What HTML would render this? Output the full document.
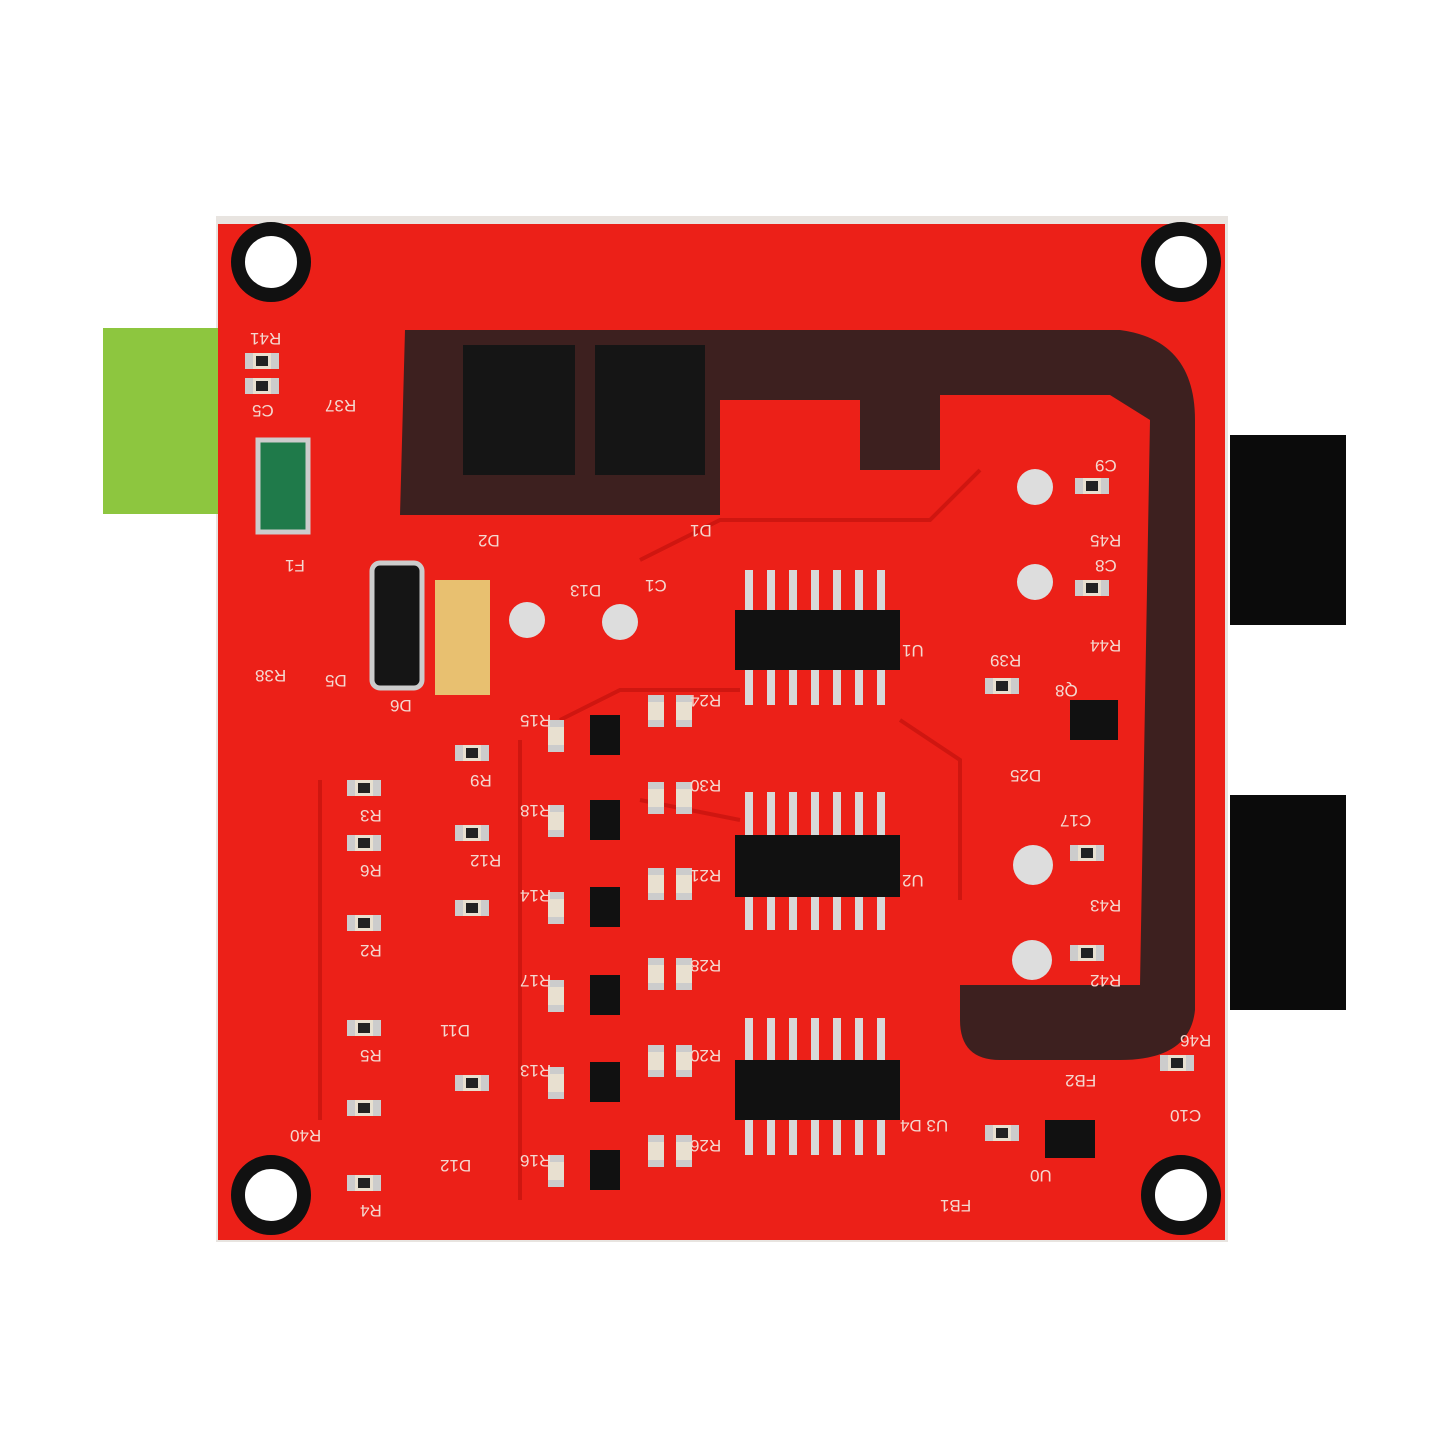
<!DOCTYPE html>
<html><head><style>
body{margin:0;width:1445px;height:1445px;background:#fff;position:relative;overflow:hidden;font-family:"Liberation Sans",sans-serif}
.a{position:absolute}
.lbl{position:absolute;color:#f4d8d0;font-size:17px;transform:rotate(180deg);white-space:nowrap}
.r{position:absolute;width:34px;height:16px;background:#e8e0d0;border-left:8px solid #ccc;border-right:8px solid #ccc;box-sizing:border-box}
.r b{display:block;margin:3px auto;width:12px;height:10px;background:#222}
.v{position:absolute;width:16px;height:32px;background:#e8e0d0;border-top:7px solid #ccc;border-bottom:7px solid #ccc;box-sizing:border-box}
</style></head><body>
<div class="a" style="left:216px;top:216px;width:1012px;height:1026px;background:#e8e4e0"></div>
<div class="a" style="left:218px;top:224px;width:1007px;height:1016px;background:#ec2018"></div>
<div class="a" style="left:103px;top:328px;width:115px;height:186px;background:#8dc63f"></div>
<div class="a" style="left:1230px;top:435px;width:116px;height:190px;background:#0b0b0b"></div>
<div class="a" style="left:1230px;top:795px;width:116px;height:215px;background:#0b0b0b"></div>
<svg class="a" style="left:0;top:0" width="1445" height="1445">
<path d="M405 330 L1120 330 Q1195 340 1195 420 L1195 1010 Q1190 1060 1120 1060 L1000 1060 Q960 1060 960 1020 L960 985 L1045 985 L1140 985 L1150 420 L1110 395 L940 395 L940 470 L860 470 L860 400 L720 400 L720 515 L400 515 Z" fill="#2a2020" opacity="0.9"/>
<g fill="#fff" stroke="#111" stroke-width="14">
<circle cx="271" cy="262" r="33"/><circle cx="1181" cy="262" r="33"/><circle cx="271" cy="1195" r="33"/><circle cx="1181" cy="1195" r="33"/></g>
<g fill="none" stroke="#c8140f" stroke-width="4" opacity="0.8">
<path d="M640 560 L720 520 L930 520 L980 470"/><path d="M560 720 L620 690 L740 690"/><path d="M900 720 L960 760 L960 900"/><path d="M520 740 L520 1200"/><path d="M640 800 L740 820"/><path d="M320 780 L320 1120"/>
</g>
<rect x="463" y="345" width="112" height="130" fill="#151515"/>
<rect x="595" y="345" width="110" height="130" fill="#151515"/>
<rect x="735" y="610" width="165" height="60" fill="#111"/>
<rect x="735" y="835" width="165" height="62" fill="#111"/>
<rect x="735" y="1060" width="165" height="60" fill="#111"/>
<g fill="#d8d8d8">
<rect x="745" y="570" width="8" height="40"/><rect x="767" y="570" width="8" height="40"/><rect x="789" y="570" width="8" height="40"/><rect x="811" y="570" width="8" height="40"/><rect x="833" y="570" width="8" height="40"/><rect x="855" y="570" width="8" height="40"/><rect x="877" y="570" width="8" height="40"/>
<rect x="745" y="670" width="8" height="35"/><rect x="767" y="670" width="8" height="35"/><rect x="789" y="670" width="8" height="35"/><rect x="811" y="670" width="8" height="35"/><rect x="833" y="670" width="8" height="35"/><rect x="855" y="670" width="8" height="35"/><rect x="877" y="670" width="8" height="35"/>
<rect x="745" y="792" width="8" height="43"/><rect x="767" y="792" width="8" height="43"/><rect x="789" y="792" width="8" height="43"/><rect x="811" y="792" width="8" height="43"/><rect x="833" y="792" width="8" height="43"/><rect x="855" y="792" width="8" height="43"/><rect x="877" y="792" width="8" height="43"/>
<rect x="745" y="897" width="8" height="33"/><rect x="767" y="897" width="8" height="33"/><rect x="789" y="897" width="8" height="33"/><rect x="811" y="897" width="8" height="33"/><rect x="833" y="897" width="8" height="33"/><rect x="855" y="897" width="8" height="33"/><rect x="877" y="897" width="8" height="33"/>
<rect x="745" y="1018" width="8" height="42"/><rect x="767" y="1018" width="8" height="42"/><rect x="789" y="1018" width="8" height="42"/><rect x="811" y="1018" width="8" height="42"/><rect x="833" y="1018" width="8" height="42"/><rect x="855" y="1018" width="8" height="42"/><rect x="877" y="1018" width="8" height="42"/>
<rect x="745" y="1120" width="8" height="35"/><rect x="767" y="1120" width="8" height="35"/><rect x="789" y="1120" width="8" height="35"/><rect x="811" y="1120" width="8" height="35"/><rect x="833" y="1120" width="8" height="35"/><rect x="855" y="1120" width="8" height="35"/><rect x="877" y="1120" width="8" height="35"/>
</g>
<rect x="258" y="440" width="50" height="92" fill="#1f7a4a" stroke="#ccc" stroke-width="5"/>
<rect x="372" y="563" width="50" height="125" rx="8" fill="#151515" stroke="#ccc" stroke-width="5"/>
<rect x="435" y="580" width="55" height="115" fill="#e8c070"/>
<g fill="#ddd"><circle cx="527" cy="620" r="18"/><circle cx="620" cy="622" r="18"/><circle cx="1035" cy="487" r="18"/><circle cx="1035" cy="582" r="18"/><circle cx="1033" cy="865" r="20"/><circle cx="1032" cy="960" r="20"/></g>
<g fill="#111"><rect x="590" y="715" width="30" height="40"/><rect x="590" y="800" width="30" height="40"/><rect x="590" y="887" width="30" height="40"/><rect x="590" y="975" width="30" height="40"/><rect x="590" y="1062" width="30" height="40"/><rect x="590" y="1150" width="30" height="40"/><rect x="1070" y="700" width="48" height="40"/><rect x="1045" y="1120" width="50" height="38"/></g>
</svg>
<div class="r a" style="left:245px;top:353px"><b></b></div><div class="r a" style="left:245px;top:378px"><b></b></div>
<div class="r a" style="left:347px;top:780px"><b></b></div><div class="r a" style="left:347px;top:835px"><b></b></div><div class="r a" style="left:347px;top:915px"><b></b></div><div class="r a" style="left:347px;top:1020px"><b></b></div><div class="r a" style="left:347px;top:1100px"><b></b></div><div class="r a" style="left:347px;top:1175px"><b></b></div>
<div class="r a" style="left:455px;top:745px"><b></b></div><div class="r a" style="left:455px;top:825px"><b></b></div><div class="r a" style="left:455px;top:900px"><b></b></div><div class="r a" style="left:455px;top:1075px"><b></b></div>
<div class="r a" style="left:985px;top:678px"><b></b></div><div class="r a" style="left:1075px;top:478px"><b></b></div><div class="r a" style="left:1075px;top:580px"><b></b></div><div class="r a" style="left:1070px;top:845px"><b></b></div><div class="r a" style="left:1070px;top:945px"><b></b></div><div class="r a" style="left:1160px;top:1055px"><b></b></div><div class="r a" style="left:985px;top:1125px"><b></b></div>
<div class="v" style="left:548px;top:720px"></div><div class="v" style="left:548px;top:805px"></div><div class="v" style="left:548px;top:892px"></div><div class="v" style="left:548px;top:980px"></div><div class="v" style="left:548px;top:1067px"></div><div class="v" style="left:548px;top:1155px"></div>
<div class="v" style="left:648px;top:695px"></div><div class="v" style="left:676px;top:695px"></div><div class="v" style="left:648px;top:782px"></div><div class="v" style="left:676px;top:782px"></div><div class="v" style="left:648px;top:868px"></div><div class="v" style="left:676px;top:868px"></div><div class="v" style="left:648px;top:958px"></div><div class="v" style="left:676px;top:958px"></div><div class="v" style="left:648px;top:1045px"></div><div class="v" style="left:676px;top:1045px"></div><div class="v" style="left:648px;top:1135px"></div><div class="v" style="left:676px;top:1135px"></div>
<div class="lbl" style="left:250px;top:328px">R41</div><div class="lbl" style="left:252px;top:400px">C5</div><div class="lbl" style="left:325px;top:395px">R37</div>
<div class="lbl" style="left:285px;top:555px">F1</div><div class="lbl" style="left:255px;top:665px">R38</div><div class="lbl" style="left:325px;top:670px">D5</div><div class="lbl" style="left:390px;top:695px">D6</div>
<div class="lbl" style="left:478px;top:530px">D2</div><div class="lbl" style="left:690px;top:520px">D1</div><div class="lbl" style="left:570px;top:580px">D13</div><div class="lbl" style="left:645px;top:575px">C1</div>
<div class="lbl" style="left:902px;top:640px">U1</div><div class="lbl" style="left:902px;top:870px">U2</div><div class="lbl" style="left:900px;top:1115px">U3 D4</div>
<div class="lbl" style="left:1095px;top:455px">C9</div><div class="lbl" style="left:1090px;top:530px">R45</div><div class="lbl" style="left:1095px;top:555px">C8</div><div class="lbl" style="left:1090px;top:635px">R44</div>
<div class="lbl" style="left:990px;top:650px">R39</div><div class="lbl" style="left:1055px;top:680px">Q8</div><div class="lbl" style="left:1010px;top:765px">D25</div><div class="lbl" style="left:1060px;top:810px">C17</div>
<div class="lbl" style="left:1090px;top:895px">R43</div><div class="lbl" style="left:1090px;top:970px">R42</div><div class="lbl" style="left:1180px;top:1030px">R46</div><div class="lbl" style="left:1170px;top:1105px">C10</div>
<div class="lbl" style="left:520px;top:710px">R15</div><div class="lbl" style="left:520px;top:800px">R18</div><div class="lbl" style="left:520px;top:885px">R14</div><div class="lbl" style="left:520px;top:970px">R17</div><div class="lbl" style="left:520px;top:1060px">R13</div><div class="lbl" style="left:520px;top:1150px">R16</div>
<div class="lbl" style="left:690px;top:690px">R24</div><div class="lbl" style="left:690px;top:775px">R30</div><div class="lbl" style="left:690px;top:865px">R21</div><div class="lbl" style="left:690px;top:955px">R28</div><div class="lbl" style="left:690px;top:1045px">R20</div><div class="lbl" style="left:690px;top:1135px">R26</div>
<div class="lbl" style="left:360px;top:805px">R3</div><div class="lbl" style="left:360px;top:860px">R6</div><div class="lbl" style="left:360px;top:940px">R2</div><div class="lbl" style="left:360px;top:1045px">R5</div><div class="lbl" style="left:290px;top:1125px">R40</div><div class="lbl" style="left:360px;top:1200px">R4</div>
<div class="lbl" style="left:470px;top:770px">R9</div><div class="lbl" style="left:470px;top:850px">R12</div><div class="lbl" style="left:440px;top:1020px">D11</div><div class="lbl" style="left:440px;top:1155px">D12</div>
<div class="lbl" style="left:940px;top:1195px">FB1</div><div class="lbl" style="left:1065px;top:1070px">FB2</div><div class="lbl" style="left:1030px;top:1165px">U0</div>
</body></html>
